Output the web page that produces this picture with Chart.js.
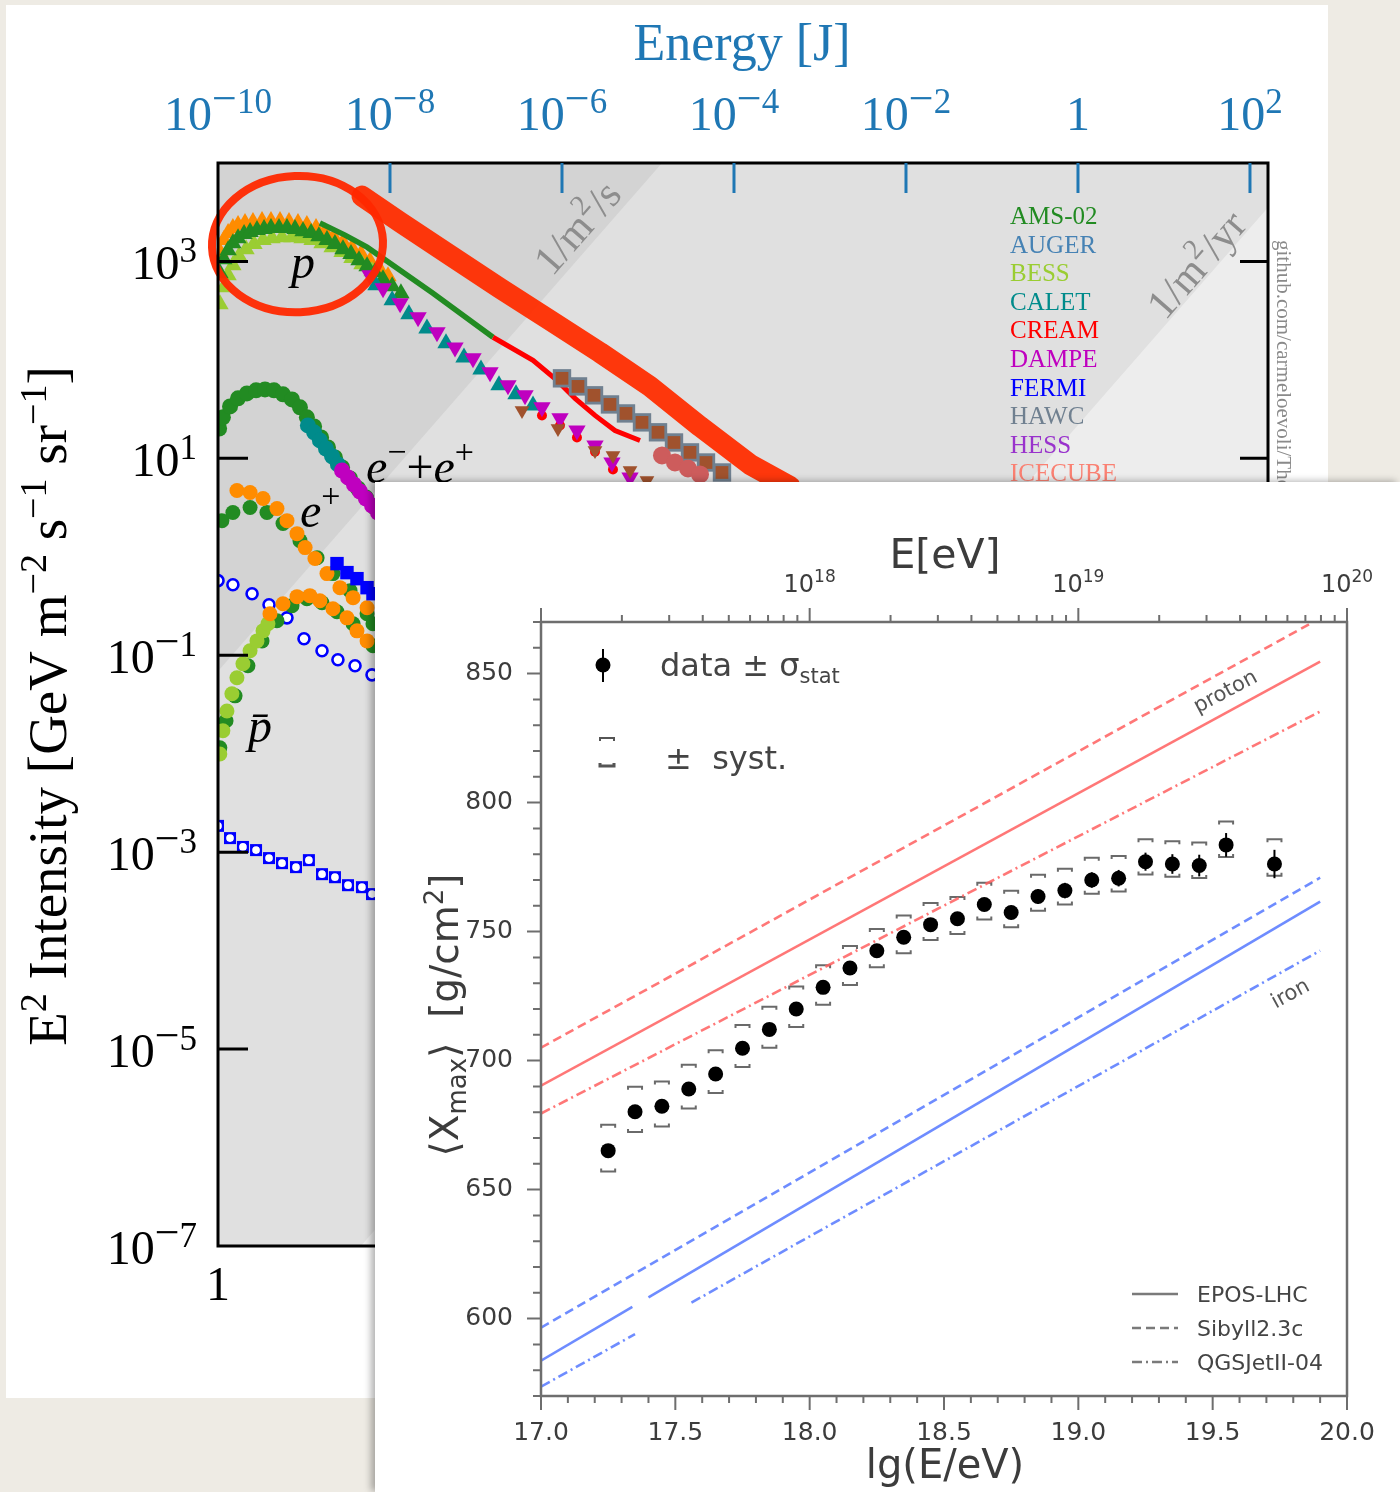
<!DOCTYPE html>
<html>
<head>
<meta charset="utf-8">
<script src="https://cdn.jsdelivr.net/npm/chart.js@4.4.1/dist/chart.umd.min.js"></script>
<style>
  html, body { margin: 0; padding: 0; }
  body { width: 1400px; height: 1492px; position: relative; overflow: hidden; background: #eeebe4; }
  #sheet { position: absolute; left: 6px; top: 5px; width: 1322px; height: 1393px; background: #ffffff; }
  #spectrum { position: absolute; left: 0; top: 0; }
  #card { position: absolute; left: 375px; top: 482px; width: 1025px; height: 1010px; background: #ffffff;
          box-shadow: -4px -1px 7px rgba(0,0,0,0.30); }
  #xmax { position: absolute; left: 0; top: 0; filter: blur(0.6px); }
</style>
</head>
<body>
<div id="sheet"></div>
<canvas id="spectrum" width="1400" height="1492"></canvas>
<div id="card"><canvas id="xmax" width="1025" height="1010"></canvas></div>
<script>
const SERIF = '"Liberation Serif", "DejaVu Serif", serif';
const SANS = '"DejaVu Sans", "Liberation Sans", sans-serif';

// ===== Cosmic-ray spectrum: energy in GeV, E^2 x intensity in GeV m^-2 s^-1 sr^-1 =====
// protons
const protonOrangeE = [1.055,1.17,1.31,1.49,1.71,2.06,2.55,3.25,4.13,5.26,6.69,8.51,10.8,13.8,17.5,22.3,28.4,36.1,46.0,58.5,74.5,94.8];
const protonOrangeF = [1244,1648,1940,2182,2339,2453,2512,2572,2572,2572,2512,2453,2339,2182,1986,1766,1571,1366,1187,1007,855,709];
const protonAmsE = [1.055,1.17,1.31,1.49,1.71,2.01,2.36,2.84,3.43,4.13,5.12,6.34,7.86,9.74,12.1,14.9,18.5,22.9,28.4,35.2,43.6,54.1,66.9,82.9,106,134];
const protonAmsF = [760,1054,1303,1535,1725,1896,1986,2081,2132,2182,2182,2182,2132,2032,1940,1808,1648,1500,1334,1187,1031,896,778,661,561,476];
const protonBessE = [1.055,1.17,1.31,1.49,1.75,2.12,2.62,3.34,4.25,5.55,7.25,9.48,12.4,16.2,21.2,27.7,36.1,47.2,61.8];
const protonBessF = [368,548,726,917,1132,1334,1500,1648,1725,1766,1766,1725,1648,1535,1397,1244,1081,939,796];
const protonDampeE = [58.5,83.0,131,212,352,570,923,1456,2355,3715,5853,9480,14930,24200,38110,61800];
const protonDampeF = [726,535,377,271,191,134,104,74.8,55.2,43.7,33.0,25.5,19.2,13.5,9.08,6.40];
const protonCaletE = [68.7,106,166,269,448,725,1143,1851,2918,4603];
const protonCaletF = [574,404,291,209,148,106,80.1,55.2,44.7,34.5];
const protonCreamE = [5853,9480,14930,24200,39170];
const protonCreamF = [27.3,21.6,16.3,11.7,7.71];
const protonBrownE = [3428,8980,24200,39170,61800,97300];
const protonBrownF = [30.7,20.1,12.0,10.7,7.53,5.96];
// nuclei sum lines
const amsLineE = [15.3,30.0,54.1,316,1577];
const amsLineF = [2453,1853,1398,476,170];
const creamLineE = [1577,4603,8750,14170,24200,41300,80760];
const creamLineF = [170,99.1,61.9,40.7,27.3,19.2,15.2];
// air-shower points around the knee
const kneeE = [10000,15350,23560,36140,55460,85170,130700,200600,307800,472400,725000];
const kneeF = [65.0,53.8,43.7,35.3,28.6,23.2,18.4,14.5,11.5,9.08,7.19];
const icecubeE = [145500,206000,291800,402600];
const icecubeF = [10.7,9.08,7.89,6.86];
// all-particle highlight
const allParticleE = [47.2,131,499,1901,7250,27670,105500,402600,1535000,4480000];
const allParticleF = [4614,2511,1159,535,253,119,53.8,21.1,8.67,5.18];
// electrons + positrons
const leptonAmsE = [1.03,1.14,1.38,1.71,2.17,2.77,3.52,4.48,5.70,7.25,8.98,10.8,13.1,15.8,19.0,22.9,27.7,34.3,42.5,52.6,66.9];
const leptonAmsF = [20.1,26.1,33.7,40.7,45.7,49.1,50.2,49.1,44.7,39.7,33.0,26.1,21.1,16.3,12.9,10.2,8.08,6.25,4.94,4.00,3.17];
const leptonCaletE = [11.1,13.1,15.3,18.0,21.2,24.8];
const leptonCaletF = [21.6,18.4,15.2,12.6,10.5,8.67];
const leptonDampeE = [27.7,32.5,38.1,44.8,52.6,61.8,72.5,85.2];
const leptonDampeF = [7.53,6.40,5.43,4.61,3.91,3.32,2.82,2.40];
// positrons
const positronOrangeE = [1.66,2.36,3.34,4.85,6.34,8.29,10.3,13.4,18.5,26.2,37.2,54.1];
const positronOrangeF = [4.72,4.50,3.91,3.09,2.33,1.72,1.24,0.96,0.675,0.486,0.385,0.304];
const positronAmsE = [1.11,1.49,2.36,3.71,5.70,8.98,14.2,21.7,34.3,54.1,63.4];
const positronAmsF = [2.33,2.82,3.17,2.82,2.18,1.46,0.98,0.675,0.453,0.264,0.209];
const positronFermiE = [24.2,31.6,41.3,54.1,63.4];
const positronFermiF = [0.853,0.691,0.600,0.486,0.422];
// antiprotons
const pbarBessE = [1.05,1.14,1.27,1.45,1.66,1.95,2.36,2.84,3.34,3.81];
const pbarBessF = [0.00995,0.0171,0.0272,0.0406,0.0591,0.0819,0.111,0.140,0.177,0.209];
const pbarOrangeE = [4.02,5.70,8.29,11.7,15.3,21.7,31.6,41.3,54.1];
const pbarOrangeF = [0.264,0.334,0.394,0.403,0.358,0.297,0.240,0.177,0.140];
const pbarAmsE = [1.05,1.24,1.58,2.23,3.25,4.85,7.25,10.8,16.2,24.2,37.2,63.4];
const pbarAmsF = [0.0115,0.0216,0.0387,0.0782,0.140,0.224,0.319,0.376,0.342,0.277,0.209,0.125];
// gamma rays (open blue markers)
const gammaUpperE = [1.0,1.49,2.49,3.92,6.34,10.0,16.2,24.8,39.2,61.8];
const gammaUpperF = [0.573,0.521,0.422,0.326,0.240,0.147,0.111,0.0900,0.0782,0.0633];
const gammaLowerE = [1.0,1.38,1.95,2.77,3.92,5.55,8.07,11.4,16.2,22.9,32.5,47.2,61.8];
const gammaLowerF = [1.85e-3,1.39e-3,1.13e-3,1.05e-3,8.71e-4,7.74e-4,7.05e-4,8.30e-4,5.98e-4,5.57e-4,4.62e-4,4.41e-4,3.75e-4];
// constant-rate guide lines (1 per m^2 per second / per year)
const guideE = [1, 1e13];
const perSecondF = [0.0687, 6.87e11];
const perYearF = [2.18e-9, 2.18e4];
// highlight ellipse around the proton peak (bounding box)
const ringE = [0.85, 83];
const ringF = [305, 7380];
// axes
const energyRangeGeV = [1, 1.62e12];
const energyRangeJ = [1e-10, 162];
const intensityRange = [1e-7, 1e4];
const topTickExps = [-10, -8, -6, -4, -2, 0, 2];
const leftTickExps = [3, 1, -1, -3, -5, -7];
const experiments = ['AMS-02','AUGER','BESS','CALET','CREAM','DAMPE','FERMI','HAWC','HESS','ICECUBE'];
const experimentColors = ['#228B22','#4682B4','#9ACD32','#008B8B','#FF0000','#BF00BF','#0000FF','#708090','#9932CC','#FA8072'];

// ===== Depth of shower maximum =====
const lgE = [17.25,17.35,17.45,17.55,17.65,17.75,17.85,17.95,18.05,18.15,18.25,18.35,18.45,18.55,18.65,18.75,18.85,18.95,19.05,19.15,19.25,19.35,19.45,19.55,19.73];
const xmaxMean = [665.1,680.2,682.3,689.0,694.8,704.8,712.1,720.0,728.4,735.9,742.6,747.8,752.7,755.0,760.5,757.4,763.6,765.9,770.0,770.7,777.1,776.2,775.6,783.6,776.2];
const statErr = [2.5,2.2,2.0,2.0,2.0,2.0,2.0,2.0,2.0,2.0,2.0,2.2,2.2,2.4,2.5,2.6,2.8,3.0,3.0,3.2,3.5,3.8,4.2,4.6,5.5];
const sysUp = [10.0,9.7,9.6,9.4,9.2,9.0,8.8,8.7,8.6,8.5,8.4,8.4,8.4,8.4,8.4,8.4,8.4,8.5,8.6,8.6,8.7,8.8,8.9,9.1,9.6];
const sysDown = [8.1,7.9,7.8,7.6,7.4,7.3,7.1,7.0,6.8,6.6,6.4,6.2,6.0,5.9,5.8,5.7,5.5,5.4,5.3,5.2,5.0,4.9,4.8,4.7,4.6];
const modelLg = [17.0, 19.9];
const protonEpos = [690.3, 854.6];
const protonSibyll = [705.0, 871.5];
const protonQgsjet = [679.5, 835.3];
const ironSibyll = [596.5, 770.9];
const ironEposLg1 = [17.0, 17.34], ironEpos1 = [583.7, 604.5];
const ironEposLg2 = [17.40, 19.9], ironEpos2 = [608.2, 761.6];
const ironQgsLg1 = [17.0, 17.35], ironQgs1 = [573.6, 594.0];
const ironQgsLg2 = [17.56, 19.9], ironQgs2 = [606.2, 742.6];
const modelNames = ['EPOS-LHC', 'Sibyll2.3c', 'QGSJetII-04'];
const xmaxTickValues = [600, 650, 700, 750, 800, 850];
const lgTickValues = [17.0, 17.5, 18.0, 18.5, 19.0, 19.5, 20.0];
const topEnergyExps = [18, 19, 20];

// ---------- helpers ----------
function rich(ctx, parts, x, y, align) {
  let w = 0;
  for (const p of parts) { ctx.font = p[1]; w += ctx.measureText(p[0]).width; }
  let cx = align === 'center' ? x - w / 2 : align === 'right' ? x - w : x;
  ctx.textAlign = 'left';
  ctx.textBaseline = 'alphabetic';
  for (const p of parts) {
    ctx.font = p[1];
    ctx.fillText(p[0], cx, y + (p[2] || 0));
    cx += ctx.measureText(p[0]).width;
  }
  return w;
}
// "10^e" label pieces: wide minus sign, smaller raised digits
function powerParts(e, bigFont, minusFont, supFont) {
  const parts = [['10', bigFont]];
  if (e < 0) parts.push(['\u2212', minusFont, -17]);
  parts.push([String(Math.abs(e)), supFont, -17]);
  return parts;
}
const xy = (X, Y) => X.map((v, i) => ({x: v, y: Y[i]}));
const mk = (X, Y, style, fill, r, extra) => Object.assign({
  type: 'scatter', data: xy(X, Y), pointStyle: style, pointRadius: r,
  backgroundColor: fill, borderColor: fill, borderWidth: 0, clip: 0
}, extra || {});
const ln = (X, Y, color, w, extra) => Object.assign({
  type: 'line', data: xy(X, Y), borderColor: color, borderWidth: w,
  pointRadius: 0, fill: false, tension: 0, clip: 0
}, extra || {});

// ---------- spectrum panel ----------
const specLayers = [
  ln(guideE, perSecondF, 'rgba(0,0,0,0)', 0, {fill: 'end', backgroundColor: '#d3d3d3'}),
  ln(guideE, perYearF, 'rgba(0,0,0,0)', 0, {fill: 'start', backgroundColor: '#ededed'}),
  mk(gammaLowerE, gammaLowerF, 'rect', '#0000ff', 8.5),
  mk(gammaLowerE, gammaLowerF, 'circle', '#ffffff', 4.6, {borderColor: '#0000ff', borderWidth: 1.5}),
  mk(gammaUpperE, gammaUpperF, 'circle', '#ffffff', 5.5, {borderColor: '#0000ff', borderWidth: 2.6}),
  mk(pbarAmsE, pbarAmsF, 'circle', '#228B22', 7.5),
  mk(pbarBessE, pbarBessF, 'circle', '#9ACD32', 7.5),
  mk(pbarOrangeE, pbarOrangeF, 'circle', '#FF8C00', 7.5),
  mk(positronAmsE, positronAmsF, 'circle', '#228B22', 7.5),
  mk(positronOrangeE, positronOrangeF, 'circle', '#FF8C00', 7.5),
  mk(positronFermiE, positronFermiF, 'rect', '#0000ff', 9.5),
  mk(leptonAmsE, leptonAmsF, 'circle', '#228B22', 8),
  mk(leptonCaletE, leptonCaletF, 'circle', '#008B8B', 8),
  mk(leptonDampeE, leptonDampeF, 'circle', '#BF00BF', 8),
  mk(protonOrangeE, protonOrangeF, 'triangle', '#FF8C00', 10),
  mk(protonBessE, protonBessF, 'triangle', '#9ACD32', 10),
  mk(protonAmsE, protonAmsF, 'triangle', '#228B22', 10),
  mk(protonCreamE, protonCreamF, 'circle', '#FF0000', 5),
  mk(protonCaletE, protonCaletF, 'triangle', '#008B8B', 10),
  mk(protonDampeE, protonDampeF, 'triangle', '#BF00BF', 10, {rotation: 180}),
  mk(protonBrownE, protonBrownF, 'triangle', '#A0522D', 8.5, {rotation: 180}),
  ln(amsLineE, amsLineF, '#228B22', 5.5),
  ln(creamLineE, creamLineF, '#FF0000', 5),
  mk(kneeE, kneeF, 'rect', '#708090', 13),
  mk(kneeE, kneeF, 'rect', '#A0522D', 9),
  mk(icecubeE, icecubeF, 'circle', '#CD5C5C', 9),
  ln(allParticleE, allParticleF, 'rgba(255,45,0,0.95)', 21, {borderCapStyle: 'round', borderJoinStyle: 'round'})
];
specLayers.forEach((d, i) => { d.order = specLayers.length - i; });

const spectrumDecor = {
  id: 'spectrumDecor',
  beforeDraw(chart) {
    const {ctx, chartArea: a} = chart;
    ctx.save();
    ctx.fillStyle = '#e0e0e0';
    ctx.fillRect(a.left, a.top, a.right - a.left, a.bottom - a.top);
    ctx.restore();
  },
  afterDraw(chart) {
    const {ctx, chartArea: a} = chart;
    const sx = chart.scales.x, sy = chart.scales.y, sj = chart.scales.xJ;
    const big = '48px ' + SERIF, sup = '35px ' + SERIF, minus = '44px ' + SERIF;
    ctx.save();

    // marker ring around the proton peak
    const l = sx.getPixelForValue(ringE[0]), r = sx.getPixelForValue(ringE[1]);
    const t = sy.getPixelForValue(ringF[1]), b = sy.getPixelForValue(ringF[0]);
    ctx.strokeStyle = 'rgba(255,40,0,0.95)';
    ctx.lineWidth = 8;
    ctx.beginPath();
    ctx.ellipse((l + r) / 2, (t + b) / 2, (r - l) / 2, (b - t) / 2, -0.04, 0, Math.PI * 2);
    ctx.stroke();

    // species labels
    ctx.fillStyle = '#000';
    const it = 'italic 48px ' + SERIF, rm = '48px ' + SERIF, sm = '34px ' + SERIF;
    rich(ctx, [['p', it]], 303, 278, 'center');
    rich(ctx, [['e', it], ['\u2212', sm, -20], ['+', rm], ['e', it], ['+', sm, -20]], 366, 483, 'left');
    rich(ctx, [['e', it], ['+', sm, -20]], 300, 527, 'left');
    rich(ctx, [['p\u0304', it]], 248, 742, 'left');

    // rate guide labels
    ctx.fillStyle = '#8d8d8d';
    const ang = -Math.atan2(98.3, 86);
    [[578, 228, '/s'], [1197, 265, '/yr']].forEach(([cx, cy, tail]) => {
      ctx.save();
      ctx.translate(cx, cy);
      ctx.rotate(ang);
      rich(ctx, [['1/m', '42px ' + SERIF], ['2', '29px ' + SERIF, -17], [tail, '42px ' + SERIF]], 0, 13, 'center');
      ctx.restore();
    });

    // experiment names
    ctx.font = '25px ' + SERIF;
    ctx.textAlign = 'left';
    ctx.textBaseline = 'alphabetic';
    experiments.forEach((n, i) => {
      ctx.fillStyle = experimentColors[i];
      ctx.fillText(n, 1010, 224 + 28.6 * i);
    });

    // frame
    ctx.strokeStyle = '#000';
    ctx.lineWidth = 3;
    ctx.strokeRect(a.left, a.top, a.right - a.left, a.bottom - a.top);

    // intensity ticks and labels
    ctx.fillStyle = '#000';
    leftTickExps.forEach(e => {
      const py = sy.getPixelForValue(Math.pow(10, e));
      if (e > -7) {
        ctx.beginPath();
        ctx.moveTo(a.left, py); ctx.lineTo(a.left + 30, py);
        ctx.moveTo(a.right, py); ctx.lineTo(a.right - 28, py);
        ctx.stroke();
      }
      rich(ctx, powerParts(e, big, minus, sup), 197, py + 18, 'right');
    });
    // energy (GeV) axis: left end label
    rich(ctx, [['1', big]], sx.getPixelForValue(1), 1300, 'center');

    // energy (J) axis
    ctx.strokeStyle = '#1f77b4';
    ctx.fillStyle = '#1f77b4';
    topTickExps.forEach(e => {
      const px = sj.getPixelForValue(Math.pow(10, e));
      if (e > -10) {
        ctx.beginPath();
        ctx.moveTo(px, a.top); ctx.lineTo(px, a.top + 30);
        ctx.stroke();
      }
      if (e === 0) rich(ctx, [['1', big]], px, 130, 'center');
      else rich(ctx, powerParts(e, big, minus, sup), px, 130, 'center');
    });
    rich(ctx, [['Energy [J]', '52px ' + SERIF]], 742, 60, 'center');

    // intensity title
    ctx.fillStyle = '#000';
    ctx.save();
    ctx.translate(66, 706);
    ctx.rotate(-Math.PI / 2);
    const tf = '55px ' + SERIF, ts = '38px ' + SERIF;
    rich(ctx, [['E', tf], ['2', ts, -20], [' Intensity [GeV m', tf], ['\u22122', ts, -20], [' s', tf],
               ['\u22121', ts, -20], [' sr', tf], ['\u22121', ts, -20], [']', tf]], 0, 0, 'center');
    ctx.restore();

    // credit line
    ctx.save();
    ctx.translate(1277, 240);
    ctx.rotate(Math.PI / 2);
    ctx.fillStyle = '#8a8a8a';
    ctx.font = '21px ' + SERIF;
    ctx.textAlign = 'left';
    ctx.fillText('github.com/carmeloevoli/The_CR_Spectrum', 0, 0);
    ctx.restore();

    ctx.restore();
  }
};

new Chart(document.getElementById('spectrum'), {
  type: 'scatter',
  data: {datasets: specLayers},
  options: {
    responsive: false, animation: false, events: [], devicePixelRatio: 1,
    layout: {padding: {left: 218, top: 163, right: 1400 - 1268, bottom: 1492 - 1246}},
    scales: {
      x: {type: 'logarithmic', min: energyRangeGeV[0], max: energyRangeGeV[1], display: false},
      xJ: {type: 'logarithmic', position: 'top', min: energyRangeJ[0], max: energyRangeJ[1], display: false},
      y: {type: 'logarithmic', min: intensityRange[0], max: intensityRange[1], display: false}
    },
    plugins: {legend: {display: false}, tooltip: {enabled: false}}
  },
  plugins: [spectrumDecor]
});

// ---------- Xmax panel ----------
const RED = 'rgba(255,95,95,0.85)', BLUE = 'rgba(85,120,255,0.85)';
const DASH = [9, 5], DASHDOT = [10, 4, 2, 4];
const xmaxLayers = [
  mk(lgE, xmaxMean, 'circle', '#000', 7.5),
  ln(modelLg, protonEpos, RED, 2.6),
  ln(modelLg, protonSibyll, RED, 2.6, {borderDash: DASH}),
  ln(modelLg, protonQgsjet, RED, 2.6, {borderDash: DASHDOT}),
  ln(modelLg, ironSibyll, BLUE, 2.6, {borderDash: DASH}),
  ln(ironEposLg1, ironEpos1, BLUE, 2.6),
  ln(ironEposLg2, ironEpos2, BLUE, 2.6),
  ln(ironQgsLg1, ironQgs1, BLUE, 2.6, {borderDash: DASHDOT}),
  ln(ironQgsLg2, ironQgs2, BLUE, 2.6, {borderDash: DASHDOT})
];

const xmaxDecor = {
  id: 'xmaxDecor',
  beforeDatasetsDraw(chart) {
    const ctx = chart.ctx, sx = chart.scales.x, sy = chart.scales.y;
    ctx.save();
    ctx.strokeStyle = '#6a6a6a';
    ctx.lineWidth = 2;
    lgE.forEach((v, i) => {
      const px = sx.getPixelForValue(v);
      const yu = sy.getPixelForValue(xmaxMean[i] + sysUp[i]);
      const yd = sy.getPixelForValue(xmaxMean[i] - sysDown[i]);
      ctx.beginPath();
      ctx.moveTo(px - 7, yu + 3); ctx.lineTo(px - 7, yu); ctx.lineTo(px + 7, yu); ctx.lineTo(px + 7, yu + 3);
      ctx.moveTo(px - 7, yd - 3); ctx.lineTo(px - 7, yd); ctx.lineTo(px + 7, yd); ctx.lineTo(px + 7, yd - 3);
      ctx.stroke();
    });
    ctx.strokeStyle = '#000';
    lgE.forEach((v, i) => {
      const px = sx.getPixelForValue(v);
      ctx.beginPath();
      ctx.moveTo(px, sy.getPixelForValue(xmaxMean[i] + statErr[i]));
      ctx.lineTo(px, sy.getPixelForValue(xmaxMean[i] - statErr[i]));
      ctx.stroke();
    });
    ctx.restore();
  },
  afterDraw(chart) {
    const {ctx, chartArea: a} = chart;
    const sx = chart.scales.x, sy = chart.scales.y, se = chart.scales.xe;
    ctx.save();
    // frame
    ctx.strokeStyle = '#6e6e6e';
    ctx.lineWidth = 2.5;
    ctx.strokeRect(a.left, a.top, a.right - a.left, a.bottom - a.top);
    // ticks
    ctx.lineWidth = 2;
    ctx.beginPath();
    for (let v = 570; v <= 870; v += 10) {
      const py = sy.getPixelForValue(v), len = v % 50 === 0 ? 14 : 8;
      ctx.moveTo(a.left, py); ctx.lineTo(a.left - len, py);
    }
    for (let i = 0; i <= 30; i++) {
      const px = sx.getPixelForValue(17 + i / 10), len = i % 5 === 0 ? 14 : 7;
      ctx.moveTo(px, a.bottom); ctx.lineTo(px, a.bottom + len);
    }
    for (let e = 17; e <= 19; e++) {
      for (let m = 1; m <= 9; m++) {
        const px = se.getPixelForValue(m * Math.pow(10, e)), len = m === 1 ? 14 : 7;
        ctx.moveTo(px, a.top); ctx.lineTo(px, a.top - len);
      }
    }
    const pEnd = se.getPixelForValue(1e20);
    ctx.moveTo(pEnd, a.top); ctx.lineTo(pEnd, a.top - 14);
    ctx.stroke();

    ctx.fillStyle = '#3c3c3c';
    // E[eV] tick labels
    topEnergyExps.forEach(e => {
      rich(ctx, [['10', '24px ' + SANS], [String(e), '17px ' + SANS, -10]], se.getPixelForValue(Math.pow(10, e)), 110, 'center');
    });
    // axis titles
    rich(ctx, [['E[eV]', '41px ' + SANS]], 570, 86, 'center');
    rich(ctx, [['lg(E/eV)', '40px ' + SANS]], 570, 996, 'center');
    ctx.save();
    ctx.translate(83, 533);
    ctx.rotate(-Math.PI / 2);
    rich(ctx, [['\u27E8X', '39px ' + SANS], ['max', '26px ' + SANS, 8], ['\u27E9  [g/cm', '39px ' + SANS], ['2', '26px ' + SANS, -15], [']', '39px ' + SANS]], 0, 0, 'center');
    ctx.restore();

    // data legend
    ctx.fillStyle = '#000';
    ctx.strokeStyle = '#000';
    ctx.beginPath(); ctx.arc(228, 183, 7.5, 0, Math.PI * 2); ctx.fill();
    ctx.beginPath(); ctx.moveTo(228, 167); ctx.lineTo(228, 200); ctx.stroke();
    ctx.fillStyle = '#444';
    rich(ctx, [['data \u00B1 \u03C3', '32px ' + SANS], ['stat', '21px ' + SANS, 7]], 285, 194, 'left');
    ctx.strokeStyle = '#555';
    ctx.lineWidth = 2;
    ctx.beginPath();
    ctx.moveTo(225, 259); ctx.lineTo(225, 256); ctx.lineTo(239, 256); ctx.lineTo(239, 259);
    ctx.stroke();
    ctx.lineWidth = 3;
    ctx.beginPath();
    ctx.moveTo(225, 281); ctx.lineTo(225, 284); ctx.lineTo(239, 284); ctx.lineTo(239, 281);
    ctx.stroke();
    rich(ctx, [['\u00B1  syst.', '32px ' + SANS]], 290, 287, 'left');

    // model legend
    const dashes = [[], DASH, DASHDOT];
    ctx.strokeStyle = '#7a7a7a';
    ctx.lineWidth = 2.6;
    modelNames.forEach((n, i) => {
      const yy = 812 + 34 * i;
      ctx.setLineDash(dashes[i]);
      ctx.beginPath(); ctx.moveTo(757, yy); ctx.lineTo(803, yy); ctx.stroke();
      ctx.setLineDash([]);
      rich(ctx, [[n, '22px ' + SANS]], 822, yy + 8, 'left');
    });

    // composition labels
    ctx.fillStyle = '#555';
    [['proton', 850, 209, -0.49], ['iron', 915, 511, -0.5]].forEach(([txt, cx, cy, rot]) => {
      ctx.save();
      ctx.translate(cx, cy);
      ctx.rotate(rot);
      rich(ctx, [[txt, '21px ' + SANS]], 0, 7, 'center');
      ctx.restore();
    });
    ctx.restore();
  }
};

new Chart(document.getElementById('xmax'), {
  type: 'scatter',
  data: {datasets: xmaxLayers},
  options: {
    responsive: false, animation: false, events: [], devicePixelRatio: 1,
    layout: {padding: {left: 0, top: 0, right: 53, bottom: 0}},
    scales: {
      x: {
        type: 'linear', position: 'bottom', min: 17, max: 20,
        afterFit(s) { s.height = 96; },
        afterBuildTicks(s) { s.ticks = lgTickValues.map(v => ({value: v})); },
        grid: {display: false}, border: {display: false},
        ticks: {autoSkip: false, maxRotation: 0, padding: 14,
                color: '#3c3c3c', font: {family: SANS, size: 25}, callback: v => Number(v).toFixed(1)}
      },
      xe: {
        type: 'logarithmic', position: 'top', min: 1e17, max: 1e20,
        afterFit(s) { s.height = 140; },
        grid: {display: false}, border: {display: false}, ticks: {display: false}
      },
      y: {
        type: 'linear', position: 'left', min: 570, max: 870,
        afterFit(s) { s.width = 166; },
        afterBuildTicks(s) { s.ticks = xmaxTickValues.map(v => ({value: v})); },
        grid: {display: false}, border: {display: false},
        ticks: {autoSkip: false, padding: 20,
                color: '#3c3c3c', font: {family: SANS, size: 25}, callback: v => String(v)}
      }
    },
    plugins: {legend: {display: false}, tooltip: {enabled: false}}
  },
  plugins: [xmaxDecor]
});
</script>
</body>
</html>
